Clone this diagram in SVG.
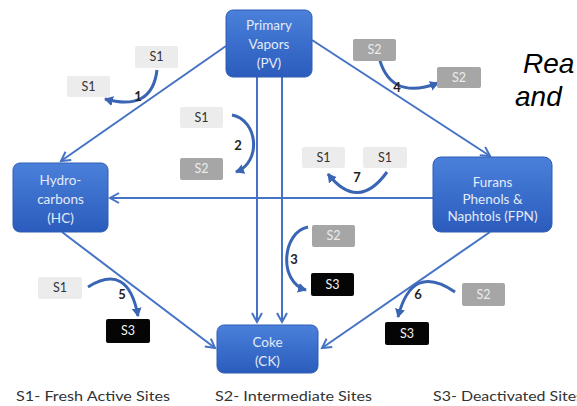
<svg xmlns="http://www.w3.org/2000/svg" width="577" height="406" viewBox="0 0 577 406">
<defs>
<linearGradient id="ng" x1="0" y1="0" x2="0" y2="1">
<stop offset="0" stop-color="#4a80da"/>
<stop offset="1" stop-color="#2b5cbd"/>
</linearGradient>
<marker id="ah" markerUnits="userSpaceOnUse" markerWidth="14" markerHeight="14" refX="10" refY="6" orient="auto">
<path d="M1,1 L10,6 L1,11" fill="none" stroke="#4472c4" stroke-width="2"/>
</marker>
<marker id="ch" markerUnits="userSpaceOnUse" markerWidth="12" markerHeight="12" refX="8" refY="5" orient="auto">
<path d="M0,0 L9,5 L0,10 Z" fill="#3a64b4"/>
</marker>
<style>
.node rect{fill:url(#ng);stroke:#2f5db5;stroke-width:1}
.node text{font-family:Lato,"Open Sans",sans-serif;font-size:13.5px;fill:#e3ebf8;text-anchor:middle}
.conn{fill:none;stroke:#4472c4;stroke-width:2;marker-end:url(#ah)}
.cv{fill:none;stroke:#3a64b4;stroke-width:3;marker-end:url(#ch)}
.site text{font-family:Lato,"Open Sans",sans-serif;font-size:12.5px;text-anchor:middle}
.s1 rect{fill:#ececec}
.s1 text{fill:#333}
.s2 rect{fill:#a6a6a6}
.s2 text{fill:#ececec}
.s3 rect{fill:#050505}
.s3 text{fill:#f2f2f2}
.num{font-family:Lato,"Open Sans",sans-serif;font-size:13px;font-weight:bold;fill:#222;text-anchor:middle}
.leg{font-family:Lato,"Open Sans",sans-serif;font-size:14px;fill:#333}
.big{font-family:"Liberation Sans",Arial,sans-serif;font-style:italic;font-size:28px;fill:#000}
</style>
</defs>
<rect width="577" height="406" fill="#fff"/>

<g id="connectors">
<line class="conn" x1="226" y1="46" x2="61" y2="161"/>
<line class="conn" x1="312" y1="40" x2="490" y2="156"/>
<line class="conn" x1="62" y1="232" x2="215" y2="348"/>
<line class="conn" x1="490" y1="232" x2="322" y2="348"/>
<line class="conn" x1="433" y1="198" x2="110" y2="198"/>
<line class="conn" x1="257" y1="77" x2="257" y2="322"/>
<line class="conn" x1="282" y1="77" x2="282" y2="322"/>
<path class="cv" d="M157,70 Q152,112 105,99"/>
<path class="cv" d="M232,115 C258,120 262,162 236,172"/>
<path class="cv" d="M308,227 C282,232 278,282 306,290"/>
<path class="cv" d="M378,53 Q388,102 438,83"/>
<path class="cv" d="M88,287 Q128,262 138,316"/>
<path class="cv" d="M455,292 Q412,262 398,317"/>
<path class="cv" d="M387,172 Q358,212 328,174"/>
<text class="num" x="138" y="101">1</text>
<text class="num" x="238" y="150">2</text>
<text class="num" x="294" y="264">3</text>
<text class="num" x="397" y="92">4</text>
<text class="num" x="122" y="299">5</text>
<text class="num" x="418" y="299">6</text>
<text class="num" x="357" y="182">7</text>
</g>

<g id="PV" class="node">
<rect x="226" y="10" width="86" height="67" rx="7"/>
<text x="269" y="30">Primary</text>
<text x="269" y="49">Vapors</text>
<text x="269" y="68">(PV)</text>
</g>
<g id="HC" class="node">
<rect x="13" y="163" width="95" height="69" rx="7"/>
<text x="60.5" y="185">Hydro-</text>
<text x="60.5" y="204">carbons</text>
<text x="60.5" y="223">(HC)</text>
</g>
<g id="FPN" class="node">
<rect x="433" y="157" width="119" height="75" rx="8"/>
<text x="492.5" y="187">Furans</text>
<text x="492.5" y="204">Phenols &amp;</text>
<text x="492.5" y="221">Naphtols (FPN)</text>
</g>
<g id="CK" class="node">
<rect x="217" y="325" width="101" height="48" rx="7"/>
<text x="267.5" y="347">Coke</text>
<text x="267.5" y="366">(CK)</text>
</g>

<g id="site1" class="site s1"><rect x="135" y="46" width="43" height="22" rx="2"/><text x="156.5" y="61">S1</text></g>
<g id="site2" class="site s1"><rect x="67" y="76" width="43" height="21" rx="2"/><text x="88.5" y="91">S1</text></g>
<g id="site3" class="site s1"><rect x="180" y="107" width="43" height="21" rx="2"/><text x="201.5" y="122">S1</text></g>
<g id="site4" class="site s2"><rect x="180" y="158" width="43" height="22" rx="2"/><text x="201.5" y="173">S2</text></g>
<g id="site5" class="site s2"><rect x="353" y="39" width="43" height="22" rx="2"/><text x="374.5" y="54">S2</text></g>
<g id="site6" class="site s2"><rect x="437" y="67" width="44" height="21" rx="2"/><text x="459" y="82">S2</text></g>
<g id="site7" class="site s1"><rect x="302" y="147" width="43" height="21" rx="2"/><text x="323.5" y="162">S1</text></g>
<g id="site8" class="site s1"><rect x="363" y="147" width="44" height="21" rx="2"/><text x="385" y="162">S1</text></g>
<g id="site9" class="site s1"><rect x="38" y="277" width="44" height="22" rx="2"/><text x="60" y="292">S1</text></g>
<g id="site10" class="site s3"><rect x="106" y="319" width="44" height="24" rx="2"/><text x="128" y="335">S3</text></g>
<g id="site11" class="site s2"><rect x="312" y="225" width="43" height="22" rx="2"/><text x="333.5" y="240">S2</text></g>
<g id="site12" class="site s3"><rect x="311" y="273" width="43" height="23" rx="2"/><text x="332.5" y="289">S3</text></g>
<g id="site13" class="site s2"><rect x="462" y="283" width="43" height="23" rx="2"/><text x="483.5" y="299">S2</text></g>
<g id="site14" class="site s3"><rect x="385" y="322" width="44" height="23" rx="2"/><text x="407" y="338">S3</text></g>

<g id="legend">
<text class="leg" x="16" y="401" textLength="154" lengthAdjust="spacingAndGlyphs">S1- Fresh Active Sites</text>
<text class="leg" x="215" y="401" textLength="157" lengthAdjust="spacingAndGlyphs">S2- Intermediate Sites</text>
<text class="leg" x="433" y="401" textLength="150" lengthAdjust="spacingAndGlyphs">S3- Deactivated Sites</text>
</g>
<g id="title">
<text class="big" x="523" y="73">Rea</text>
<text class="big" x="515" y="106">and</text>
</g>
</svg>
